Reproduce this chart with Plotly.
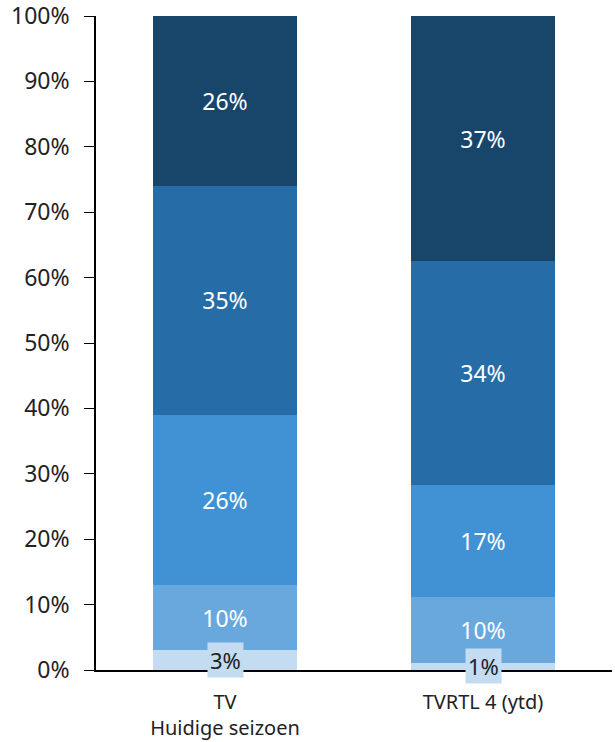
import plotly.graph_objects as go

categories = ["TV<br>Huidige seizoen", "TVRTL 4 (ytd)"]
series_names = ["s1", "s2", "s3", "s4", "s5"]
values = [
    [3, 1.1],
    [10, 10.1],
    [26, 17.1],
    [35, 34.2],
    [26, 37.5],
]
labels = [
    ["3%", "1%"],
    ["10%", "10%"],
    ["26%", "17%"],
    ["35%", "34%"],
    ["26%", "37%"],
]
colors = ["#c3dcf1", "#68a8dd", "#4192d4", "#266ca7", "#18456a"]

font = "'Noto Sans', 'Open Sans', sans-serif"

fig = go.Figure()
for i, name in enumerate(series_names):
    fig.add_trace(go.Bar(
        x=categories, y=values[i], name=name,
        marker=dict(color=colors[i], line=dict(width=0)),
        text=labels[i] if i > 0 else None,
        textposition="inside" if i > 0 else "none",
        insidetextanchor="middle",
        textangle=0,
        textfont=dict(color="white", size=23, family=font),
        hoverinfo="skip",
    ))

# small bottom segments: label boxes drawn over the zero line
for cat, val, lab in zip(categories, values[0], labels[0]):
    fig.add_annotation(
        x=cat, y=val / 2, text=lab, showarrow=False,
        font=dict(color="#222222", size=22, family=font),
        bgcolor=colors[0], borderpad=2, yanchor="middle",
    )

fig.update_layout(
    barmode="stack",
    width=615, height=742,
    margin=dict(l=96, r=3, t=16, b=72),
    plot_bgcolor="white", paper_bgcolor="white",
    showlegend=False,
    bargap=0.44,
    font=dict(family=font, color="#222222"),
    xaxis=dict(
        showline=True, linecolor="black", linewidth=1.5,
        ticks="", ticklabelstandoff=13, automargin=False,
        tickfont=dict(size=20, color="#222222"),
    ),
    yaxis=dict(
        range=[0, 100], tickvals=list(range(0, 101, 10)),
        ticktext=[f"{v}%" for v in range(0, 101, 10)],
        showgrid=False, zeroline=False,
        showline=True, linecolor="black", linewidth=1.5,
        ticks="outside", ticklen=10, tickcolor="black",
        ticklabelstandoff=10, ticklabeloverflow="allow", automargin=False,
        tickfont=dict(size=23, color="#222222"),
    ),
)

# drop the default body margin so the figure sits at the window's corner
fig.write_html("out.html", config={"displayModeBar": False},
               post_script="document.body.style.margin='0';")
